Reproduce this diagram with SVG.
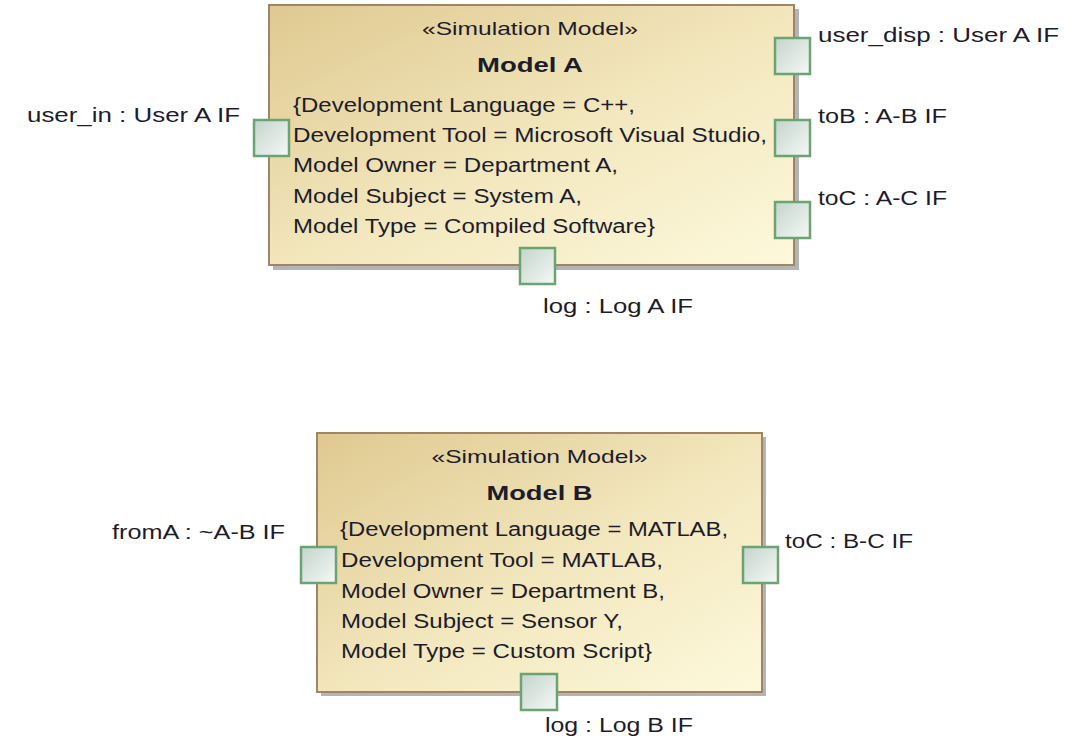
<svg xmlns="http://www.w3.org/2000/svg" width="1081" height="743" viewBox="0 0 1081 743">
  <defs>
    <linearGradient id="blockFill" x1="0" y1="0" x2="1" y2="1">
      <stop offset="0" stop-color="#dfc990"/>
      <stop offset="0.55" stop-color="#f3e8bf"/>
      <stop offset="1" stop-color="#fdf9dc"/>
    </linearGradient>
    <linearGradient id="portFill" x1="0" y1="0" x2="1" y2="1">
      <stop offset="0" stop-color="#c3d4cb"/>
      <stop offset="1" stop-color="#f6f9f6"/>
    </linearGradient>
    <style>
      .shadow { fill: #b4b4b4; }
      .block { fill: url(#blockFill); stroke: #a08466; stroke-width: 2; }
      .port { fill: url(#portFill); stroke: #6ba372; stroke-width: 2.5; }
      text { font-family: "Liberation Sans", Arial, sans-serif; fill: #1c1c2c; }
      .stereo { font-size: 19px; text-anchor: middle; }
      .title { font-size: 21px; font-weight: bold; text-anchor: middle; }
      .attr { font-size: 20px; }
      .lbl { font-size: 20px; }
    </style>
  </defs>

  <!-- Block: Model A -->
  <g id="modelA">
    <rect class="shadow" x="273" y="9" width="526" height="261"/>
    <rect class="block" x="269" y="5" width="525" height="260"/>
    <text class="stereo" x="530" y="35" textLength="216" lengthAdjust="spacingAndGlyphs">«Simulation Model»</text>
    <text class="title" x="530" y="72" textLength="106" lengthAdjust="spacingAndGlyphs">Model A</text>
    <text class="attr" x="293" y="112" textLength="342" lengthAdjust="spacingAndGlyphs">{Development Language = C++,</text>
    <text class="attr" x="293" y="142" textLength="474" lengthAdjust="spacingAndGlyphs">Development Tool = Microsoft Visual Studio,</text>
    <text class="attr" x="293" y="172" textLength="325" lengthAdjust="spacingAndGlyphs">Model Owner = Department A,</text>
    <text class="attr" x="293" y="203" textLength="289" lengthAdjust="spacingAndGlyphs">Model Subject = System A,</text>
    <text class="attr" x="293" y="233" textLength="362" lengthAdjust="spacingAndGlyphs">Model Type = Compiled Software}</text>
  </g>

  <!-- Ports of Model A -->
  <g id="modelA-user_in">
    <rect class="port" x="254" y="120" width="35" height="36"/>
    <text class="lbl" x="27" y="122" textLength="213" lengthAdjust="spacingAndGlyphs">user_in : User A IF</text>
  </g>
  <g id="modelA-user_disp">
    <rect class="port" x="775" y="38" width="35" height="36"/>
    <text class="lbl" x="818" y="42" textLength="241" lengthAdjust="spacingAndGlyphs">user_disp : User A IF</text>
  </g>
  <g id="modelA-toB">
    <rect class="port" x="775" y="120" width="35" height="36"/>
    <text class="lbl" x="818" y="123" textLength="129" lengthAdjust="spacingAndGlyphs">toB : A-B IF</text>
  </g>
  <g id="modelA-toC">
    <rect class="port" x="775" y="202" width="35" height="36"/>
    <text class="lbl" x="818" y="205" textLength="129" lengthAdjust="spacingAndGlyphs">toC : A-C IF</text>
  </g>
  <g id="modelA-log">
    <rect class="port" x="520" y="248" width="35" height="36"/>
    <text class="lbl" x="543" y="313" textLength="150" lengthAdjust="spacingAndGlyphs">log : Log A IF</text>
  </g>

  <!-- Block: Model B -->
  <g id="modelB">
    <rect class="shadow" x="321" y="437" width="445" height="259"/>
    <rect class="block" x="317" y="433" width="445" height="259"/>
    <text class="stereo" x="539.5" y="463" textLength="216" lengthAdjust="spacingAndGlyphs">«Simulation Model»</text>
    <text class="title" x="539.5" y="500" textLength="106" lengthAdjust="spacingAndGlyphs">Model B</text>
    <text class="attr" x="340" y="536" textLength="388" lengthAdjust="spacingAndGlyphs">{Development Language = MATLAB,</text>
    <text class="attr" x="341" y="567" textLength="322" lengthAdjust="spacingAndGlyphs">Development Tool = MATLAB,</text>
    <text class="attr" x="341" y="598" textLength="324" lengthAdjust="spacingAndGlyphs">Model Owner = Department B,</text>
    <text class="attr" x="341" y="628" textLength="282" lengthAdjust="spacingAndGlyphs">Model Subject = Sensor Y,</text>
    <text class="attr" x="341" y="658" textLength="311" lengthAdjust="spacingAndGlyphs">Model Type = Custom Script}</text>
  </g>

  <!-- Ports of Model B -->
  <g id="modelB-fromA">
    <rect class="port" x="301" y="547" width="35" height="36"/>
    <text class="lbl" x="112" y="539" textLength="173" lengthAdjust="spacingAndGlyphs">fromA : ~A-B IF</text>
  </g>
  <g id="modelB-toC">
    <rect class="port" x="743" y="547" width="35" height="36"/>
    <text class="lbl" x="785" y="548" textLength="128" lengthAdjust="spacingAndGlyphs">toC : B-C IF</text>
  </g>
  <g id="modelB-log">
    <rect class="port" x="521" y="674" width="36" height="36"/>
    <text class="lbl" x="545" y="732" textLength="148" lengthAdjust="spacingAndGlyphs">log : Log B IF</text>
  </g>

  <!-- No connectors are drawn between the blocks -->
  <g id="connectors"/>
</svg>
